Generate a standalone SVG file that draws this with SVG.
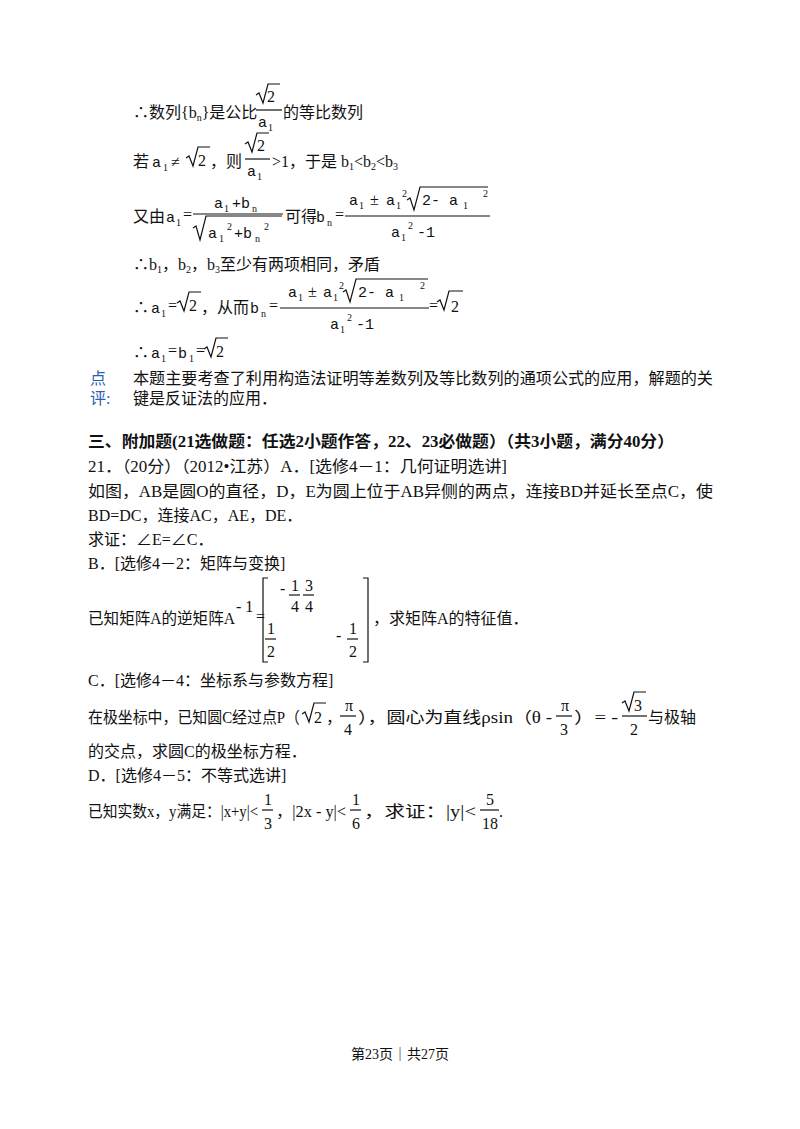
<svg xmlns="http://www.w3.org/2000/svg" width="800" height="1129" viewBox="0 0 800 1129">
<style>
text{font-family:"Liberation Serif","Noto Sans CJK SC",serif;font-size:16px;fill:#111}
.m{font-family:"Liberation Mono","DejaVu Sans Mono",monospace;font-size:15px}
.s{font-size:10px}
.b{font-weight:bold}
.blue{fill:#2a5db0}
line,path{stroke:#111;stroke-width:1.2;fill:none}
</style>
<rect width="800" height="1129" fill="#fff"/>
<g id="derivation">
<text x="133" y="118">∴数列{b<tspan class="s" dy="3">n</tspan><tspan dy="-3">}是公比</tspan></text>
<path d="M256 95 l3 -2 l4 10 l5 -19 h12"/><text x="267" y="102">2</text>
<line x1="256" y1="110" x2="282" y2="110"/>
<text class="m" x="258" y="127">a</text><text class="s" x="268" y="131">1</text>
<text x="283" y="118">的等比数列</text>

<text x="133" y="167">若</text><text class="m" x="152" y="167">a</text><text class="s" x="163" y="171">1</text>
<text x="171" y="167">≠</text><path d="M186 158 l3 -2 l4 10 l5 -19 h12"/><text x="198" y="166">2</text><text x="210" y="167">，则</text>
<path d="M245 144 l3 -2 l4 10 l5 -19 h12"/><text x="257" y="151">2</text>
<line x1="245" y1="159" x2="270" y2="159"/>
<text class="m" x="247" y="176">a</text><text class="s" x="257" y="180">1</text>
<text x="272" y="167">&gt;1，于是 b<tspan class="s" dy="3">1</tspan><tspan dy="-3">&lt;b</tspan><tspan class="s" dy="3">2</tspan><tspan dy="-3">&lt;b</tspan><tspan class="s" dy="3">3</tspan></text>

<text x="133" y="222">又由</text><text class="m" x="166" y="222">a</text><text class="s" x="176" y="226">1</text><text x="183" y="220">=</text>
<text class="m" x="214" y="208">a</text><text class="s" x="224" y="212">1</text><text class="m" x="232" y="208">+b</text><text class="s" x="252" y="212">n</text>
<line x1="193" y1="214" x2="283" y2="214"/>
<path d="M193 228 l3 -2 l4 14 l6 -24 h76"/>
<text class="m" x="208" y="238">a</text><text class="s" x="219" y="242">1</text><text class="s" x="227" y="230">2</text><text class="m" x="234" y="238">+b</text><text class="s" x="255" y="242">n</text><text class="s" x="264" y="230">2</text>
<text x="285" y="222">可得</text><text class="m" x="316" y="222">b</text><text class="s" x="327" y="226">n</text><text x="335" y="220">=</text>
<text class="m" x="349" y="205">a</text><text class="s" x="359" y="209">1</text><text x="370" y="205">±</text><text class="m" x="386" y="205">a</text><text class="s" x="396" y="209">1</text><text class="s" x="402" y="197">2</text>
<path d="M407 200 l3 -2 l4 12 l6 -23 h68"/><text class="m" x="422" y="205">2- a</text><text class="s" x="463" y="209">1</text><text class="s" x="483" y="197">2</text>
<line x1="345" y1="216" x2="490" y2="216"/>
<text class="m" x="391" y="237">a</text><text class="s" x="401" y="241">1</text><text class="s" x="408" y="229">2</text><text class="m" x="417" y="237">-1</text>

<text x="133" y="270">∴b<tspan class="s" dy="3">1</tspan><tspan dy="-3">，b</tspan><tspan class="s" dy="3">2</tspan><tspan dy="-3">，b</tspan><tspan class="s" dy="3">3</tspan><tspan dy="-3">至少有两项相同，矛盾</tspan></text>

<text x="133" y="313">∴</text><text class="m" x="151" y="313">a</text><text class="s" x="161" y="317">1</text><text x="168" y="311">=</text>
<path d="M177 303 l3 -2 l4 10 l5 -19 h12"/><text x="189" y="311">2</text><text x="201" y="313">，从而</text>
<text class="m" x="250" y="313">b</text><text class="s" x="261" y="317">n</text><text x="269" y="311">=</text>
<text class="m" x="288" y="297">a</text><text class="s" x="298" y="301">1</text><text x="308" y="297">±</text><text class="m" x="323" y="297">a</text><text class="s" x="333" y="301">1</text><text class="s" x="339" y="289">2</text>
<path d="M343 292 l3 -2 l4 12 l6 -23 h72"/><text class="m" x="358" y="297">2- a</text><text class="s" x="399" y="301">1</text><text class="s" x="420" y="289">2</text>
<line x1="280" y1="308" x2="429" y2="308"/>
<text class="m" x="330" y="329">a</text><text class="s" x="340" y="333">1</text><text class="s" x="347" y="321">2</text><text class="m" x="356" y="329">-1</text>
<text x="429" y="311">=</text><path d="M437 302 l3 -2 l4 10 l5 -19 h14"/><text x="451" y="312">2</text>

<text x="133" y="358">∴</text><text class="m" x="151" y="358">a</text><text class="s" x="161" y="362">1</text><text x="168" y="356">=</text><text class="m" x="178" y="358">b</text><text class="s" x="189" y="362">1</text><text x="196" y="356">=</text>
<path d="M204 349 l3 -2 l4 10 l5 -19 h12"/><text x="216" y="357">2</text>
</g>
<g id="comment">
<text class="blue" x="90" y="384">点</text><text class="blue" x="90" y="404">评:</text>
<text x="133" y="384" textLength="580" lengthAdjust="spacingAndGlyphs">本题主要考查了利用构造法证明等差数列及等比数列的通项公式的应用，解题的关</text>
<text x="133" y="404">键是反证法的应用．</text>
</g>
<g id="section3">
<text class="b" x="88" y="447" textLength="586" lengthAdjust="spacingAndGlyphs">三、附加题(21选做题：任选2小题作答，22、23必做题）（共3小题，满分40分）</text>
<text x="88" y="472" textLength="419" lengthAdjust="spacingAndGlyphs">21．（20分）（2012•江苏）A．[选修4－1：几何证明选讲]</text>
<text x="88" y="497" textLength="625" lengthAdjust="spacingAndGlyphs">如图，AB是圆O的直径，D，E为圆上位于AB异侧的两点，连接BD并延长至点C，使</text>
<text x="88" y="521">BD=DC，连接AC，AE，DE．</text>
<text x="88" y="545">求证：∠E=∠C．</text>
<text x="88" y="569">B．[选修4－2：矩阵与变换]</text>
<text x="88" y="624" textLength="147" lengthAdjust="spacingAndGlyphs">已知矩阵A的逆矩阵A</text><text x="236" y="612">- 1</text><text x="256" y="622">=</text>
<path d="M268 578 h-5 v84 h5 M363 578 h5 v84 h-5"/>
<text x="280" y="594">-</text><text x="291" y="591">1</text><line x1="289" y1="595" x2="300" y2="595"/><text x="291" y="612">4</text>
<text x="305" y="591">3</text><line x1="303" y1="595" x2="314" y2="595"/><text x="305" y="612">4</text>
<text x="267" y="634">1</text><line x1="265" y1="639" x2="276" y2="639"/><text x="267" y="657">2</text>
<text x="336" y="641">-</text><text x="349" y="634">1</text><line x1="347" y1="639" x2="358" y2="639"/><text x="349" y="657">2</text>
<text x="373" y="624">，求矩阵A的特征值．</text>
<text x="88" y="686">C．[选修4－4：坐标系与参数方程]</text>
<text x="88" y="723" textLength="212" lengthAdjust="spacingAndGlyphs">在极坐标中，已知圆C经过点P（</text><path d="M302 714 l3 -2 l4 10 l5 -19 h12"/><text x="314" y="723">2</text><text x="326" y="723">，</text>
<text x="345" y="711">π</text><line x1="340" y1="716" x2="356" y2="716"/><text x="344" y="735">4</text>
<text x="358" y="723" textLength="194" lengthAdjust="spacingAndGlyphs">），圆心为直线ρsin（θ -</text>
<text x="561" y="711">π</text><line x1="556" y1="716" x2="572" y2="716"/><text x="560" y="735">3</text>
<text x="574" y="723" textLength="44" lengthAdjust="spacingAndGlyphs">）= -</text>
<path d="M622 703 l3 -2 l4 10 l5 -19 h12"/><text x="634" y="711">3</text><line x1="622" y1="716" x2="647" y2="716"/><text x="630" y="735">2</text>
<text x="648" y="723">与极轴</text>
<text x="88" y="757">的交点，求圆C的极坐标方程．</text>
<text x="88" y="781">D．[选修4－5：不等式选讲]</text>
<text x="88" y="817" textLength="170" lengthAdjust="spacingAndGlyphs">已知实数x，y满足：|x+y|&lt;</text><text x="264" y="805">1</text><line x1="262" y1="810" x2="273" y2="810"/><text x="264" y="829">3</text>
<text x="276" y="817" textLength="70" lengthAdjust="spacingAndGlyphs">，|2x - y|&lt;</text><text x="352" y="805">1</text><line x1="350" y1="810" x2="361" y2="810"/><text x="352" y="829">6</text>
<text x="364" y="817" textLength="112" lengthAdjust="spacingAndGlyphs">，求证：|y|&lt;</text><text x="486" y="805">5</text><line x1="480" y1="810" x2="499" y2="810"/><text x="482" y="829">18</text><text x="499" y="817">.</text>
</g>
<g id="footer">
<text x="400" y="1059" text-anchor="middle" style="font-size:14px">第23页｜共27页</text>
</g>
</svg>
